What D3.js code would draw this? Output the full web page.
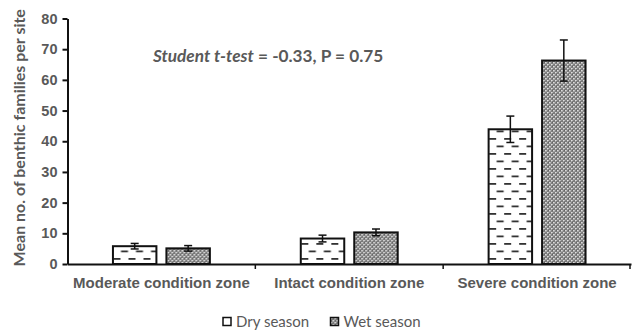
<!DOCTYPE html>
<html>
<head>
<meta charset="utf-8">
<script src="https://cdn.jsdelivr.net/npm/d3@7"></script>
<style>
  html, body { margin: 0; padding: 0; background: #fff; }
  svg { display: block; font-family: Lato, "Open Sans", sans-serif; }
</style>
</head>
<body>
<svg id="chart" width="632" height="335"></svg>
<script>
// Mean number of benthic families per site, by zone and season
const zones = ["Moderate condition zone", "Intact condition zone", "Severe condition zone"];
const seasons = ["Dry season", "Wet season"];
const dryMeans = [5.8, 8.3, 43.9];
const dryErrors = [0.9, 1.1, 4.3];
const wetMeans = [5.1, 10.3, 66.3];
const wetErrors = [0.9, 1.1, 6.7];
const yTicks = [0, 10, 20, 30, 40, 50, 60, 70, 80];
const annotation = { italic: "Student t-test", rest: " = -0.33, P = 0.75" };

const svg = d3.select("#chart");
const margin = { left: 67.5, right: 1, top: 18.5, bottom: 71 };
const W = 632, H = 335;
const grey = "#595959";

const x = d3.scaleBand().domain(zones).range([margin.left, W - margin.right]).paddingInner(0).paddingOuter(0);
const xs = d3.scaleBand().domain(seasons).range([0, x.bandwidth()]).paddingInner(0.187).paddingOuter(0.85);
const y = d3.scaleLinear().domain([0, 80]).range([H - margin.bottom, margin.top]);

// fill patterns
const defs = svg.append("defs");
const dash = defs.append("pattern").attr("id", "dashes").attr("patternUnits", "userSpaceOnUse")
  .attr("width", 15).attr("height", 15).attr("x", 0).attr("y", 0);
dash.append("rect").attr("width", 15).attr("height", 15).attr("fill", "#fff");
dash.append("rect").attr("x", 1).attr("y", 3).attr("width", 7).attr("height", 1.8).attr("fill", "#333");
dash.append("rect").attr("x", 8.5).attr("y", 10.5).attr("width", 7).attr("height", 1.8).attr("fill", "#333");
dash.append("rect").attr("x", -6.5).attr("y", 10.5).attr("width", 7).attr("height", 1.8).attr("fill", "#333");

const check = defs.append("pattern").attr("id", "check").attr("patternUnits", "userSpaceOnUse")
  .attr("width", 4).attr("height", 4);
check.append("rect").attr("width", 4).attr("height", 4).attr("fill", "#7a7a7a");
check.append("rect").attr("x", 0).attr("y", 0).attr("width", 1.5).attr("height", 1.5).attr("fill", "#f2f2f2");
check.append("rect").attr("x", 2).attr("y", 2).attr("width", 1.5).attr("height", 1.5).attr("fill", "#f2f2f2");
check.append("rect").attr("x", 1).attr("y", 1.5).attr("width", 1).attr("height", 1).attr("fill", "#4a4a4a");

const rows = zones.map((z, i) => ({
  zone: z,
  values: [
    { season: seasons[0], mean: dryMeans[i], err: dryErrors[i], fill: "url(#dashes)" },
    { season: seasons[1], mean: wetMeans[i], err: wetErrors[i], fill: "url(#check)" }
  ]
}));

// bars
const groups = svg.append("g").selectAll("g").data(rows).join("g")
  .attr("transform", d => `translate(${x(d.zone)},0)`);
groups.selectAll("rect").data(d => d.values).join("rect")
  .attr("x", d => xs(d.season))
  .attr("width", xs.bandwidth())
  .attr("y", d => y(d.mean))
  .attr("height", d => y(0) - y(d.mean))
  .attr("fill", d => d.fill)
  .attr("stroke", "#111").attr("stroke-width", 2);

// error bars
const eb = groups.selectAll("g.err").data(d => d.values).join("g").attr("class", "err")
  .attr("transform", d => `translate(${xs(d.season) + xs.bandwidth() / 2},0)`);
eb.append("line").attr("y1", d => y(d.mean + d.err)).attr("y2", d => y(d.mean - d.err))
  .attr("stroke", "#111").attr("stroke-width", 1.5);
eb.selectAll("line.cap").data(d => [d.mean + d.err, d.mean - d.err]).join("line").attr("class", "cap")
  .attr("x1", -4).attr("x2", 4).attr("y1", v => y(v)).attr("y2", v => y(v))
  .attr("stroke", "#111").attr("stroke-width", 1.5);

// y axis
const yAxis = svg.append("g").attr("transform", `translate(${margin.left},0)`)
  .call(d3.axisLeft(y).tickValues(yTicks).tickSize(5).tickPadding(5).tickSizeOuter(0));
yAxis.select(".domain").attr("stroke", "#111").attr("stroke-width", 2);
yAxis.selectAll(".tick line").attr("stroke", "#111").attr("stroke-width", 2);
yAxis.selectAll(".tick text").attr("fill", grey).attr("font-size", 14.5).attr("font-weight", "bold");

// x axis
const xAxis = svg.append("g").attr("transform", `translate(0,${y(0)})`)
  .call(d3.axisBottom(x).tickSize(0).tickPadding(13));
xAxis.select(".domain").attr("stroke", "#111").attr("stroke-width", 2);
xAxis.selectAll(".tick text").attr("fill", grey).attr("font-size", 15).attr("font-weight", "bold");
// category separators
xAxis.selectAll("line.sep").data(zones.slice(1).map(z => x(z)).concat([W - margin.right - 1]))
  .join("line").attr("class", "sep")
  .attr("x1", d => d).attr("x2", d => d).attr("y1", 0).attr("y2", 5)
  .attr("stroke", "#111").attr("stroke-width", 1.5);

// y axis title
svg.append("text")
  .attr("transform", `translate(25,${(margin.top + y(0)) / 2 - 3.5}) rotate(-90)`)
  .attr("text-anchor", "middle").attr("fill", grey)
  .attr("font-size", 16).attr("font-weight", "bold")
  .text("Mean no. of benthic families per site");

// statistics annotation
const ann = svg.append("text").attr("x", 153).attr("y", 62).attr("fill", grey)
  .attr("font-size", 17.2).attr("font-weight", "bold");
ann.append("tspan").attr("font-style", "italic").text(annotation.italic);
ann.append("tspan").text(annotation.rest);

// legend
const legend = svg.append("g").attr("transform", "translate(223,322)");
const legItems = [
  { label: seasons[0], fill: "url(#dashes)", x: 0 },
  { label: seasons[1], fill: "url(#check)", x: 107.5 }
];
const li = legend.selectAll("g").data(legItems).join("g").attr("transform", d => `translate(${d.x},0)`);
li.append("rect").attr("x", 0).attr("y", -4.5).attr("width", 8).attr("height", 8)
  .attr("fill", d => d.fill).attr("stroke", "#111").attr("stroke-width", 1.5);
li.append("text").attr("x", 13).attr("y", 0).attr("dy", "0.35em").attr("fill", grey)
  .attr("font-size", 15).text(d => d.label);
</script>
</body>
</html>
